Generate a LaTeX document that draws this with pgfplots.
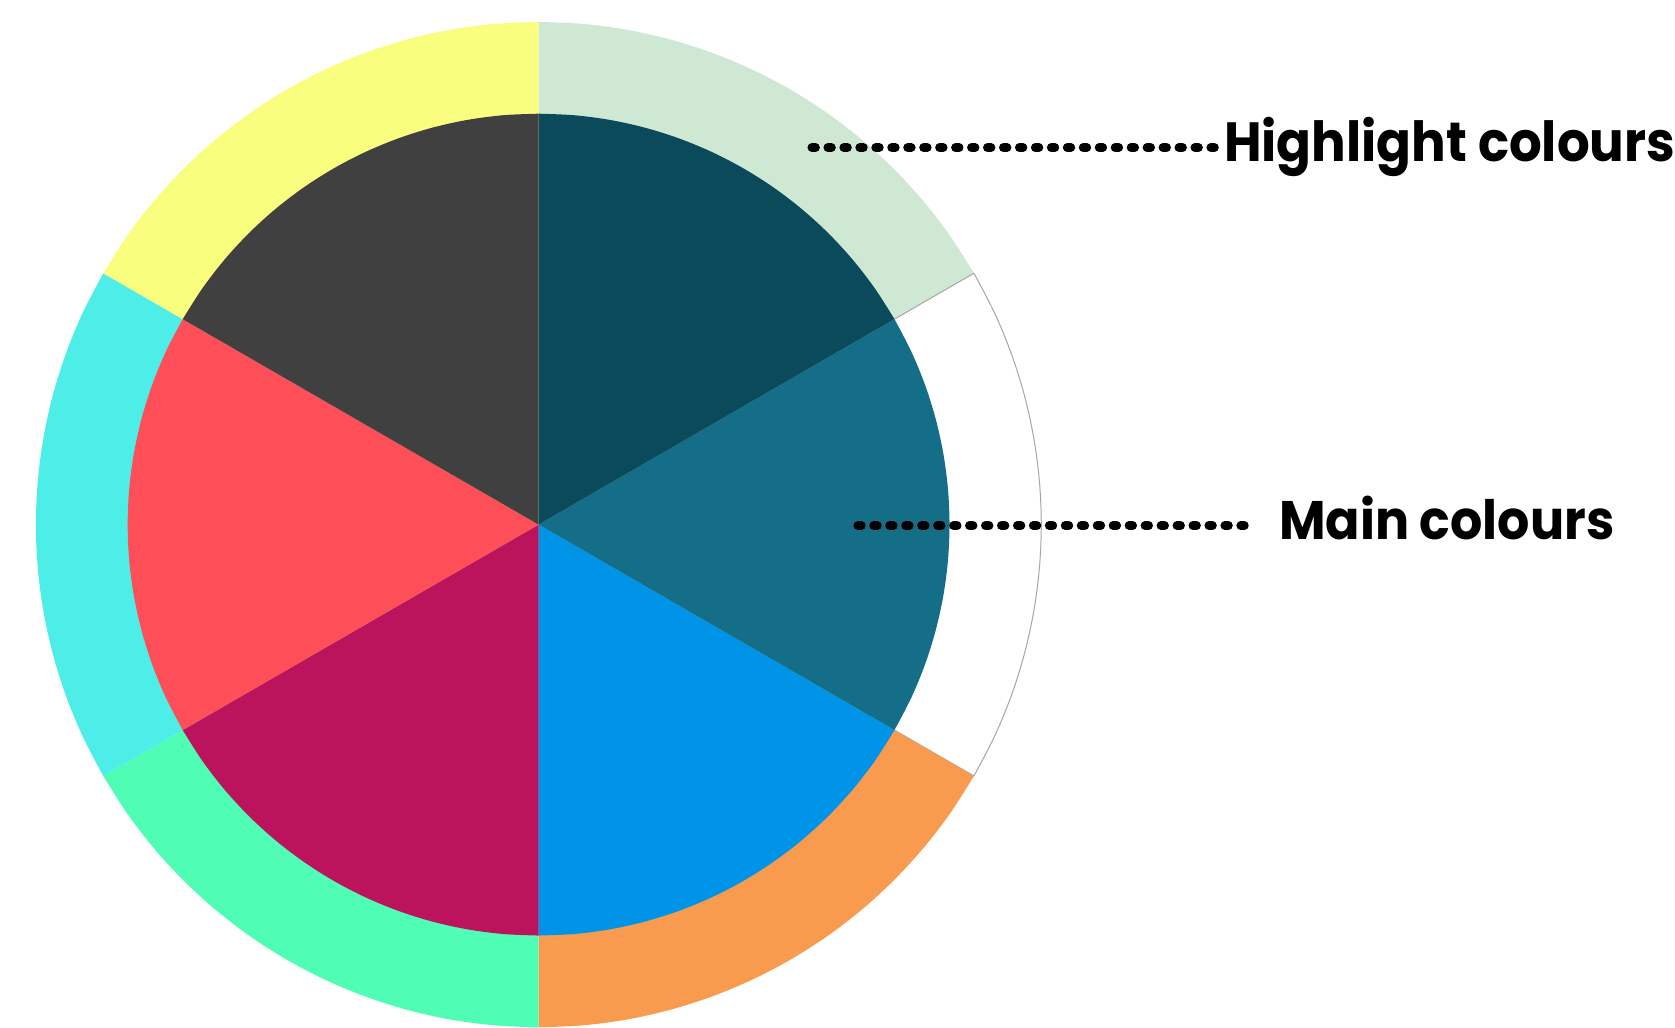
\documentclass[border=0pt]{standalone}
\usepackage{pgfplots}
\pgfplotsset{compat=1.18}
\usepackage{fontspec}
\setmainfont{Poppins}
\definecolor{cA}{HTML}{0B4A5B}
\definecolor{cB}{HTML}{156E87}
\definecolor{cC}{HTML}{0094E8}
\definecolor{cD}{HTML}{BC135D}
\definecolor{cE}{HTML}{FE4F58}
\definecolor{cF}{HTML}{404040}
\definecolor{hA}{HTML}{CFE8D4}
\definecolor{hB}{HTML}{FFFFFF}
\definecolor{hC}{HTML}{F99B4F}
\definecolor{hD}{HTML}{50FDB4}
\definecolor{hE}{HTML}{4EEEE8}
\definecolor{hF}{HTML}{FAFE7F}
\begin{document}
\begin{tikzpicture}
\begin{axis}[hide axis, scale only axis, width=837.5bp, height=515bp,
  xmin=-540, xmax=1135, ymin=-504, ymax=526, clip=false,
  wedge/.style={data cs=polar, smooth, tension=0.55, draw=none}]
% outer ring (highlight colours), six equal shares of 60 degrees, radius 504
\addplot[wedge, fill=hA] coordinates {(90,504) (85,504) (80,504) (75,504) (70,504) (65,504) (60,504) (55,504) (50,504) (45,504) (40,504) (35,504) (30,504)} -- (axis cs:0,0) -- cycle;
\addplot[wedge, fill=hB, draw=black!35, line width=0.5bp] coordinates {(30,504) (25,504) (20,504) (15,504) (10,504) (5,504) (0,504) (-5,504) (-10,504) (-15,504) (-20,504) (-25,504) (-30,504)} -- (axis cs:0,0) -- cycle;
\addplot[wedge, fill=hC] coordinates {(-30,504) (-35,504) (-40,504) (-45,504) (-50,504) (-55,504) (-60,504) (-65,504) (-70,504) (-75,504) (-80,504) (-85,504) (-90,504)} -- (axis cs:0,0) -- cycle;
\addplot[wedge, fill=hD] coordinates {(-90,504) (-95,504) (-100,504) (-105,504) (-110,504) (-115,504) (-120,504) (-125,504) (-130,504) (-135,504) (-140,504) (-145,504) (-150,504)} -- (axis cs:0,0) -- cycle;
\addplot[wedge, fill=hE] coordinates {(-150,504) (-155,504) (-160,504) (-165,504) (-170,504) (-175,504) (-180,504) (-185,504) (-190,504) (-195,504) (-200,504) (-205,504) (-210,504)} -- (axis cs:0,0) -- cycle;
\addplot[wedge, fill=hF] coordinates {(150,504) (145,504) (140,504) (135,504) (130,504) (125,504) (120,504) (115,504) (110,504) (105,504) (100,504) (95,504) (90,504)} -- (axis cs:0,0) -- cycle;
% inner pie (main colours), radius 412
\addplot[wedge, fill=cA] coordinates {(90,412) (85,412) (80,412) (75,412) (70,412) (65,412) (60,412) (55,412) (50,412) (45,412) (40,412) (35,412) (30,412)} -- (axis cs:0,0) -- cycle;
\addplot[wedge, fill=cB] coordinates {(30,412) (25,412) (20,412) (15,412) (10,412) (5,412) (0,412) (-5,412) (-10,412) (-15,412) (-20,412) (-25,412) (-30,412)} -- (axis cs:0,0) -- cycle;
\addplot[wedge, fill=cC] coordinates {(-30,412) (-35,412) (-40,412) (-45,412) (-50,412) (-55,412) (-60,412) (-65,412) (-70,412) (-75,412) (-80,412) (-85,412) (-90,412)} -- (axis cs:0,0) -- cycle;
\addplot[wedge, fill=cD] coordinates {(-90,412) (-95,412) (-100,412) (-105,412) (-110,412) (-115,412) (-120,412) (-125,412) (-130,412) (-135,412) (-140,412) (-145,412) (-150,412)} -- (axis cs:0,0) -- cycle;
\addplot[wedge, fill=cE] coordinates {(-150,412) (-155,412) (-160,412) (-165,412) (-170,412) (-175,412) (-180,412) (-185,412) (-190,412) (-195,412) (-200,412) (-205,412) (-210,412)} -- (axis cs:0,0) -- cycle;
\addplot[wedge, fill=cF] coordinates {(150,412) (145,412) (140,412) (135,412) (130,412) (125,412) (120,412) (115,412) (110,412) (105,412) (100,412) (95,412) (90,412)} -- (axis cs:0,0) -- cycle;
% leader lines
\addplot[black, line width=4.4bp, line cap=round, dash pattern=on 1.8bp off 6.2bp] coordinates {(274,378) (678,378)};
\addplot[black, line width=4.4bp, line cap=round, dash pattern=on 1.8bp off 6.2bp] coordinates {(320,-1) (710,-1)};
\node[anchor=base west, inner sep=0pt, font=\fontsize{27.8}{30}\selectfont\bfseries] at (axis cs:687,364) {\scalebox{0.93}[1]{Highlight colours}};
\node[anchor=base west, inner sep=0pt, font=\fontsize{27.3}{30}\selectfont\bfseries] at (axis cs:742,-15) {\scalebox{0.935}[1]{Main colours}};
\end{axis}
\path (current axis.south west) rectangle (current axis.north east);
\end{tikzpicture}
\end{document}
